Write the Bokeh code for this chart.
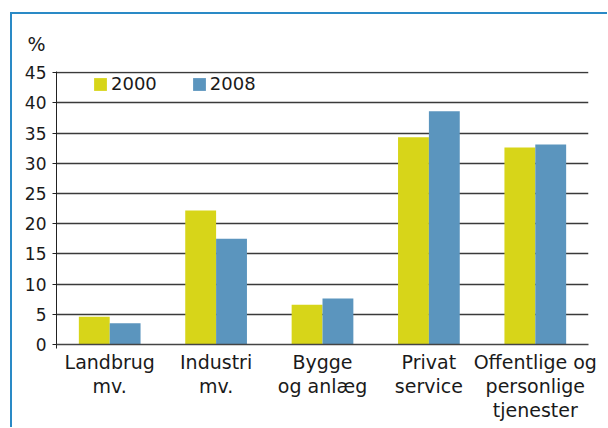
from bokeh.plotting import figure
from bokeh.models import (ColumnDataSource, Range1d, FixedTicker, Legend, LegendItem)
from bokeh.embed import file_html
from bokeh.resources import INLINE

categories = ["Landbrug\nmv.", "Industri\nmv.", "Bygge\nog anlæg", "Privat\nservice",
              "Offentlige og\npersonlige\ntjenester"]
values_2000 = [4.6, 22.2, 6.6, 34.3, 32.6]
values_2008 = [3.5, 17.5, 7.6, 38.6, 33.1]
y_ticks = [0, 5, 10, 15, 20, 25, 30, 35, 40, 45]
series_names = ["2000", "2008"]
colors = ["#d7d519", "#5b95be"]

FONT = "DejaVu Sans"
BAR_W = 0.29

idx = list(range(len(categories)))
centers = [i + 0.5 for i in idx]
src = ColumnDataSource(dict(
    x2000=[c - BAR_W / 2 for c in centers],
    x2008=[c + BAR_W / 2 for c in centers],
    v2000=values_2000,
    v2008=values_2008,
))

p = figure(width=597, height=415, output_backend="svg", toolbar_location=None,
           x_range=Range1d(0, len(categories)), y_range=Range1d(0, 45.2),
           min_border_left=44, min_border_right=21, min_border_top=57, min_border_bottom=85,
           margin=(12, 0, 0, 10),
           styles={"border-left": "2px solid #2a8ac6", "border-top": "2px solid #2a8ac6"})
p.outline_line_color = None
p.background_fill_color = "white"
p.border_fill_color = "white"

r1 = p.vbar(x="x2000", top="v2000", width=BAR_W, source=src, color=colors[0], line_color=None)
r2 = p.vbar(x="x2008", top="v2008", width=BAR_W, source=src, color=colors[1], line_color=None)

# title used as the unit label
p.title.text = "%"
p.title.align = "left"
p.title.offset = -29
p.title.standoff = 33
p.title.text_font = FONT
p.title.text_font_size = "19px"
p.title.text_font_style = "normal"
p.title.text_color = "#1a1a1a"

# axes
p.yaxis.ticker = FixedTicker(ticks=y_ticks)
p.yaxis.major_label_text_font = FONT
p.yaxis.major_label_text_font_size = "17px"
p.yaxis.major_label_text_color = "#1a1a1a"
p.yaxis.axis_line_color = "#222222"
p.yaxis.major_tick_line_color = "#222222"
p.yaxis.major_tick_out = 4
p.yaxis.major_tick_in = 0
p.yaxis.minor_tick_line_color = None
p.yaxis.major_label_standoff = 6

p.xaxis.ticker = FixedTicker(ticks=centers, minor_ticks=[0])
p.xaxis.major_label_overrides = {c: lab for c, lab in zip(centers, categories)}
p.xaxis.major_label_text_font = FONT
p.xaxis.major_label_text_font_size = "19px"
p.xaxis.major_label_text_color = "#1a1a1a"
p.xaxis.major_label_text_line_height = 1.1
p.xaxis.axis_line_color = "#444444"
p.xaxis.axis_line_width = 1.5
p.xaxis.major_tick_line_color = None
p.xaxis.minor_tick_line_color = "#222222"
p.xaxis.minor_tick_out = 4
p.xaxis.minor_tick_in = 0
p.xaxis.major_label_standoff = 0

p.xgrid.grid_line_color = None
p.ygrid.ticker = FixedTicker(ticks=y_ticks[1:])
p.ygrid.grid_line_color = "#3a3a3a"
p.ygrid.grid_line_width = 1.6

legend = Legend(items=[LegendItem(label=series_names[0], renderers=[r1]),
                       LegendItem(label=series_names[1], renderers=[r2])],
                orientation="horizontal", location=(36, 250))
legend.padding = 0
legend.margin = 0
legend.spacing = 34
legend.glyph_width = 16
legend.glyph_height = 16
legend.label_standoff = 3
legend.label_height = 16
legend.label_text_font = FONT
legend.label_text_font_size = "18px"
legend.label_text_color = "#1a1a1a"
legend.border_line_color = None
legend.background_fill_alpha = 0
p.add_layout(legend)

open("out.html", "w").write(file_html(p, INLINE))
